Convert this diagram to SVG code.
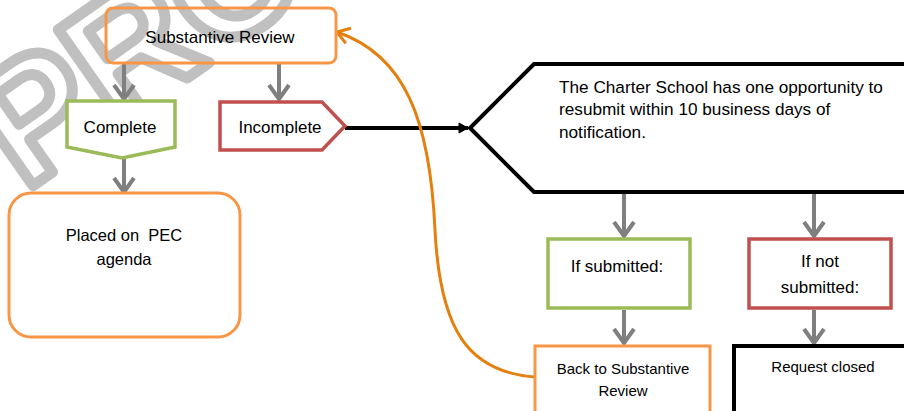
<svg xmlns="http://www.w3.org/2000/svg" width="904" height="411" viewBox="0 0 904 411">
<style>
  .t { font-family: "Liberation Sans", Arial, sans-serif; fill: #000; }
  .wm { font-family: "Liberation Sans", Arial, sans-serif; font-weight: bold; fill: none; stroke: #C0C0C0; stroke-width: 11; stroke-linejoin: round; }
  .orange { fill: #fff; stroke: #F79646; stroke-width: 3; }
  .green { fill: #fff; stroke: #9BBB59; stroke-width: 3.5; }
  .red { fill: #fff; stroke: #C0504D; stroke-width: 3.5; }
  .black { fill: #fff; stroke: #000; stroke-width: 4; }
  .garrow { stroke: #7F7F7F; stroke-width: 4; fill: none; marker-end: url(#gv); }
</style>
<defs>
  <marker id="gv" markerUnits="userSpaceOnUse" markerWidth="40" markerHeight="40" viewBox="-20 -20 40 40" refX="0" refY="0" orient="auto" overflow="visible">
    <path d="M-14,-10 L0,0 L-14,10" fill="none" stroke="#7F7F7F" stroke-width="4" stroke-linejoin="round"/>
  </marker>
  <marker id="bv" markerUnits="userSpaceOnUse" markerWidth="20" markerHeight="20" viewBox="-10 -10 20 20" refX="0" refY="0" orient="auto" overflow="visible">
    <path d="M-9,-5 L0,0 L-9,5 Z" fill="#000" stroke="#000" stroke-width="1"/>
  </marker>
  <marker id="ov" markerUnits="userSpaceOnUse" markerWidth="30" markerHeight="30" viewBox="-15 -15 30 30" refX="0" refY="0" orient="auto" overflow="visible">
    <path d="M-12,-8 L0,0 L-12,8" fill="none" stroke="#E3800F" stroke-width="3" stroke-linejoin="round"/>
  </marker>
</defs>
<rect x="0" y="0" width="904" height="411" fill="#fff"/>

<g id="watermark">
  <text class="wm" font-size="165" transform="translate(24,192) rotate(-35)">PRO</text>
</g>

<g id="connectors">
  <line class="garrow" x1="124" y1="64" x2="124" y2="99"/>
  <line class="garrow" x1="279" y1="64" x2="279" y2="99"/>
  <line class="garrow" x1="124" y1="159" x2="124" y2="192"/>
  <line class="garrow" x1="624" y1="194" x2="624" y2="236"/>
  <line class="garrow" x1="814" y1="194" x2="814" y2="236"/>
  <line class="garrow" x1="624" y1="310" x2="624" y2="343"/>
  <line class="garrow" x1="814" y1="310" x2="814" y2="343"/>
  <line x1="345" y1="128" x2="468" y2="128" stroke="#000" stroke-width="4" marker-end="url(#bv)"/>
  <path d="M535,377 C468,372 440,330 435,230 C430,120 405,55 337,32" fill="none" stroke="#E3800F" stroke-width="3" marker-end="url(#ov)"/>
</g>

<g id="substantive-review">
  <rect x="106" y="8" width="230" height="55" rx="7" fill="none" stroke="#F79646" stroke-width="3"/>
  <text class="t" x="220" y="43" font-size="17" text-anchor="middle">Substantive Review</text>
</g>

<g id="complete">
  <path class="green" d="M67,101 L175,101 L175,147 L122,158 L67,147 Z"/>
  <text class="t" x="120" y="133" font-size="17" text-anchor="middle">Complete</text>
</g>

<g id="incomplete">
  <path class="red" d="M220,102 L322,102 L345,126 L322,150 L220,150 Z"/>
  <text class="t" x="280" y="133" font-size="17" text-anchor="middle">Incomplete</text>
</g>

<g id="placed-on-pec">
  <rect class="orange" x="9" y="193" width="231" height="144" rx="22"/>
  <text class="t" x="124" y="241" font-size="16.5" text-anchor="middle" xml:space="preserve">Placed on  PEC</text>
  <text class="t" x="124" y="265" font-size="16.5" text-anchor="middle">agenda</text>
</g>

<g id="resubmit">
  <path class="black" d="M910,64 L534,64 L470,128 L534,192 L910,192"/>
  <text class="t" x="559" y="93" font-size="17.2">The Charter School has one opportunity to</text>
  <text class="t" x="559" y="115" font-size="17.2">resubmit within 10 business days of</text>
  <text class="t" x="559" y="138" font-size="17.2">notification.</text>
</g>

<g id="if-submitted">
  <rect class="green" x="548" y="239" width="142" height="69"/>
  <text class="t" x="617" y="272" font-size="17" text-anchor="middle">If submitted:</text>
</g>

<g id="if-not-submitted">
  <rect class="red" x="749" y="239" width="142" height="69"/>
  <text class="t" x="820" y="267" font-size="17" text-anchor="middle">If not</text>
  <text class="t" x="820" y="293" font-size="17" text-anchor="middle">submitted:</text>
</g>

<g id="back-to-review">
  <rect class="orange" x="535" y="346" width="175" height="80"/>
  <text class="t" x="623" y="374" font-size="15" text-anchor="middle">Back to Substantive</text>
  <text class="t" x="623" y="396" font-size="15" text-anchor="middle">Review</text>
</g>

<g id="request-closed">
  <rect class="black" x="734" y="346" width="180" height="80"/>
  <text class="t" x="823" y="372" font-size="15" text-anchor="middle">Request closed</text>
</g>
</svg>
